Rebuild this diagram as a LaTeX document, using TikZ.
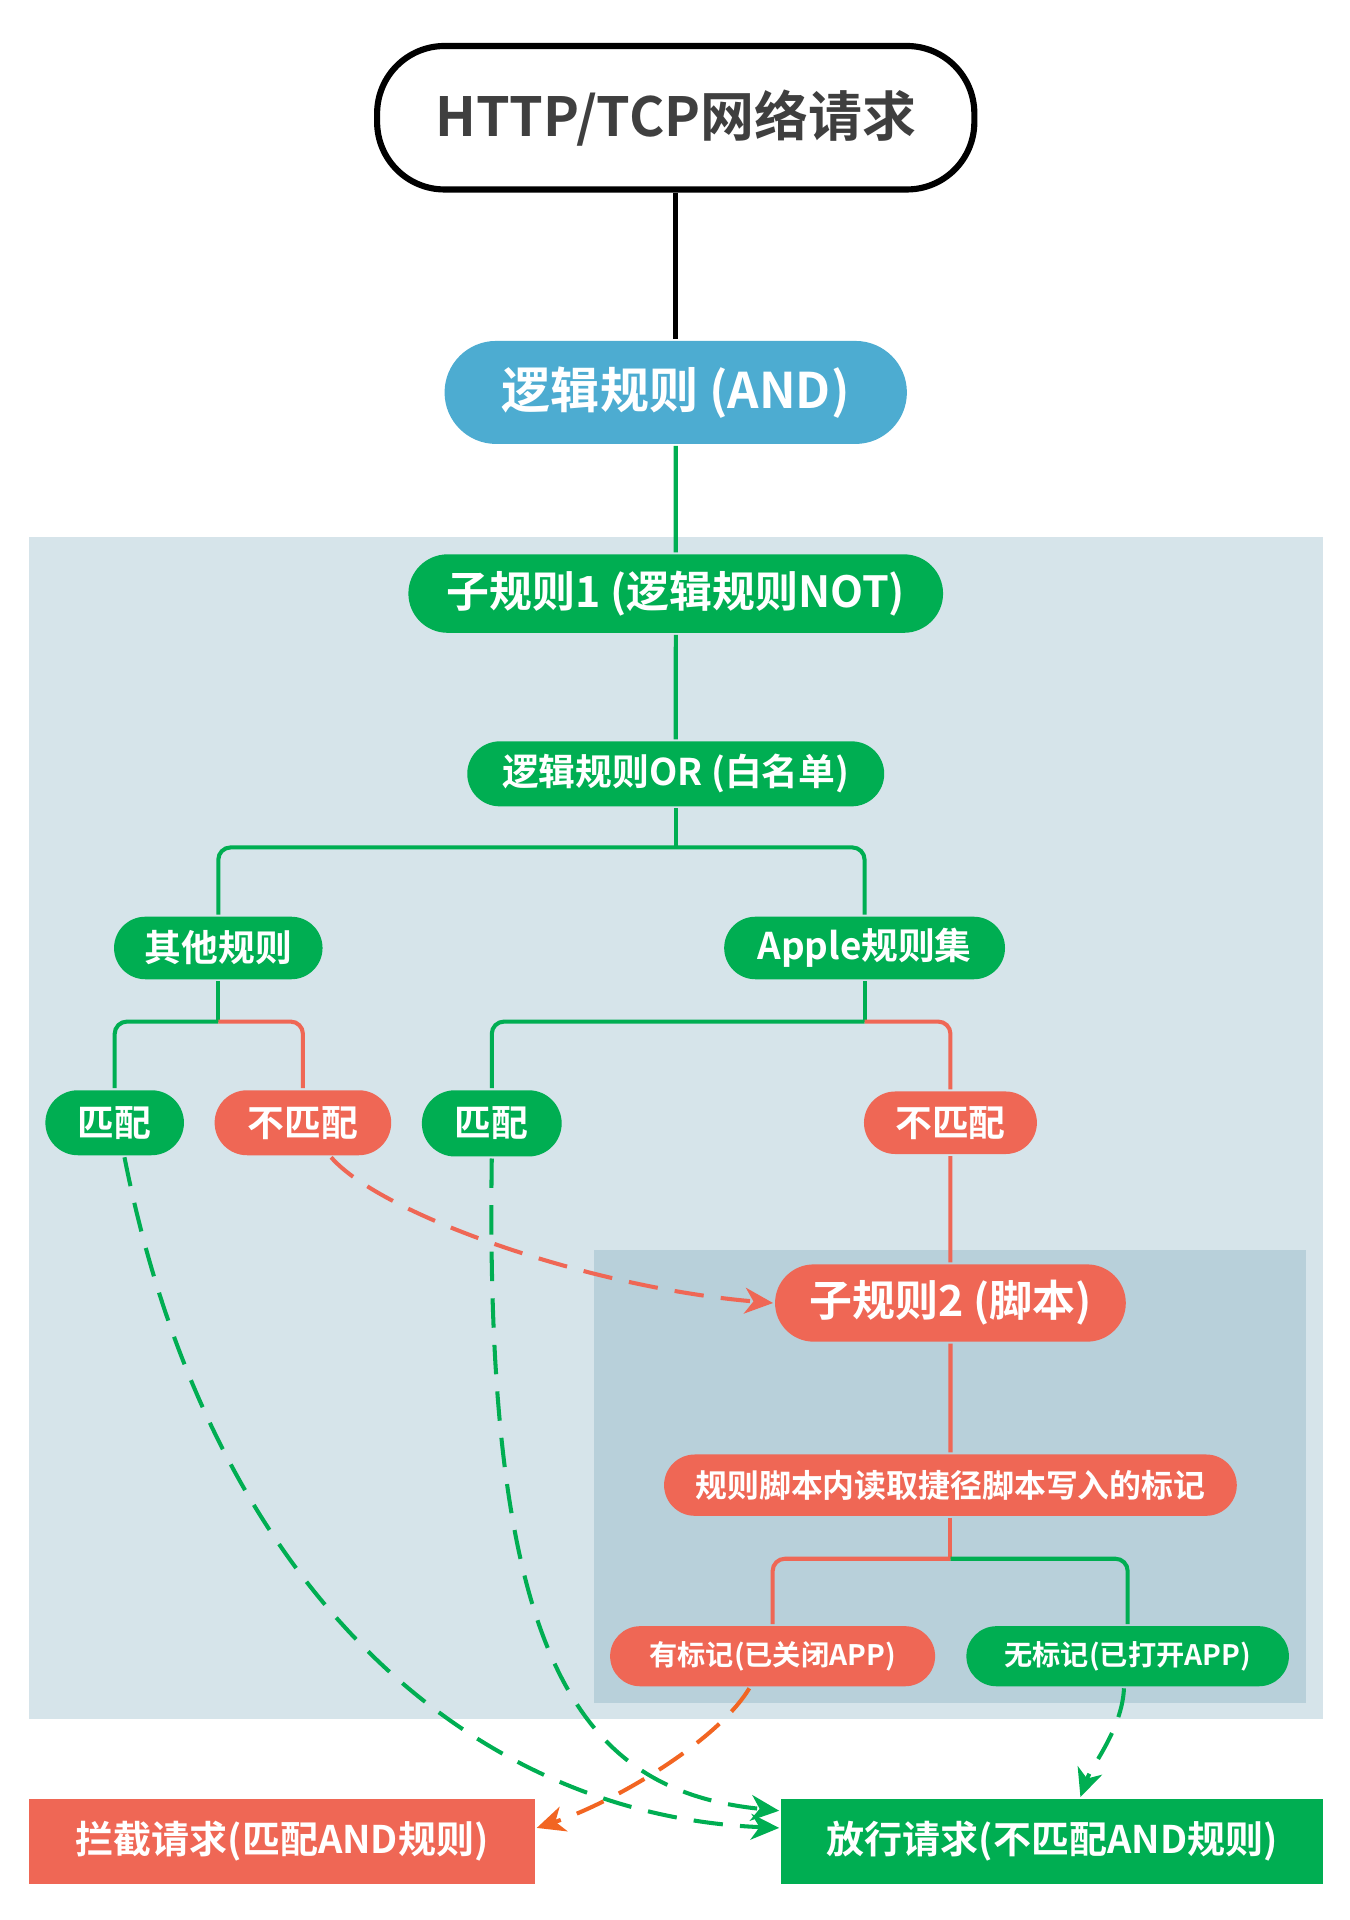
\documentclass[tikz,border=0pt]{standalone}
\usepackage{fontspec}
\setmainfont{Noto Sans CJK SC}[BoldFont={Noto Sans CJK SC Bold}]
\usetikzlibrary{arrows.meta,shapes.misc}
\definecolor{rulegreen}{HTML}{00AE52}
\definecolor{rulered}{HTML}{EF6755}
\definecolor{ruleblue}{HTML}{4DACD1}
\definecolor{dashorange}{HTML}{F26522}
\definecolor{panel}{HTML}{D6E4EA}
\definecolor{subpanel}{HTML}{B8D0DA}
\definecolor{darktext}{HTML}{3F3F3F}
\begin{document}
\begin{tikzpicture}[x=1pt, y=-1pt, line width=3.3pt,
    rule node/.style={rounded rectangle, inner sep=0pt, text=white, font=\bfseries\fontsize{30}{36}\selectfont},
    green node/.style={rule node, fill=rulegreen},
    red node/.style={rule node, fill=rulered},
    blue node/.style={rule node, fill=ruleblue, font=\bfseries\fontsize{40}{46}\selectfont},
    top node/.style={draw=black, line width=5pt, fill=white, rounded corners=55pt, inner sep=0pt,
        text=darktext, font=\bfseries\fontsize{44}{50}\selectfont},
    end node/.style={inner sep=0pt, text=white, minimum height=69pt, font=\bfseries\fontsize{31}{36}\selectfont},
    green line/.style={draw=rulegreen},
    red line/.style={draw=rulered},
    flow/.style={dash pattern=on 24pt off 14pt, -{Stealth[length=23pt,width=21pt,inset=7pt]}}]
    \useasboundingbox (0,0) rectangle (1100,1565.6);
    \fill[panel] (24,438) rectangle (1079,1402);
    \fill[subpanel] (484,1019) rectangle (1065,1389);

    \node[top node, minimum width=487pt, minimum height=117pt] (1) at (551,96) {HTTP/TCP网络请求};
    \node[blue node, minimum width=377pt, minimum height=84pt] (2) at (551,320) {逻辑规则 (AND)};
    \node[green node, minimum width=436pt, minimum height=64pt, font=\bfseries\fontsize{35}{40}\selectfont] (3) at (551,484) {子规则1 (逻辑规则NOT)};
    \node[green node, minimum width=340pt, minimum height=53pt] (4) at (551,631) {逻辑规则OR (白名单)};
    \node[green node, minimum width=170pt, minimum height=51pt] (5) at (178,773) {其他规则};
    \node[green node, minimum width=229pt, minimum height=51pt] (6) at (705,773) {Apple规则集};
    \node[green node, minimum width=113pt, minimum height=53pt] (7) at (93.5,915.5) {匹配};
    \node[red node, minimum width=144pt, minimum height=53pt] (8) at (247,915.5) {不匹配};
    \node[green node, minimum width=114pt, minimum height=54pt] (9) at (401,916) {匹配};
    \node[red node, minimum width=141pt, minimum height=51pt] (10) at (775,915.5) {不匹配};
    \node[red node, minimum width=286pt, minimum height=63pt, font=\bfseries\fontsize{35}{40}\selectfont] (11) at (775,1062.5) {子规则2 (脚本)};
    \node[red node, minimum width=467pt, minimum height=50pt, font=\bfseries\fontsize{26}{30}\selectfont] (12) at (775,1211) {规则脚本内读取捷径脚本写入的标记};
    \node[red node, minimum width=265pt, minimum height=49pt, font=\bfseries\fontsize{23}{28}\selectfont] (13) at (630,1350.5) {有标记(已关闭APP)};
    \node[green node, minimum width=263pt, minimum height=49pt, font=\bfseries\fontsize{23}{28}\selectfont] (14) at (919.5,1350.5) {无标记(已打开APP)};
    \node[end node, fill=rulered, minimum width=412pt] (15) at (230,1501.5) {拦截请求(匹配AND规则)};
    \node[end node, fill=rulegreen, minimum width=442pt] (16) at (858,1501.5) {放行请求(不匹配AND规则)};

    \coordinate (s4) at (551,691);
    \coordinate (s5) at (178,833);
    \coordinate (s6) at (705,833);
    \coordinate (s12) at (775,1271);

    \path[line width=4pt] (1) edge (2);
    \path[green line] (2) edge (3) (3) edge (4) (4) edge (s4) (5) edge (s5) (6) edge (s6);
    \path[red line] (10) edge (11) (11) edge (12) (12) edge (s12);
    \draw[green line, rounded corners=10pt] (s4) -| (5) (s4) -| (6);
    \draw[green line, rounded corners=10pt] (s5) -| (7) (s6) -| (9) (s12) -| (14);
    \draw[red line, rounded corners=10pt] (s5) -| (8) (s6) -| (10) (s12) -| (13);

    \draw[flow, draw=rulegreen] ([xshift=8pt]7.south) .. controls (170,1290) and (380,1480) .. ([yshift=11pt]16.west);
    \draw[flow, draw=rulered] ([xshift=23pt]8.south) .. controls (310,990) and (480,1050) .. (11.west);
    \draw[flow, draw=rulegreen] (9.south) .. controls (395,1350) and (470,1460) .. ([yshift=25pt]16.west);
    \draw[flow, draw=dashorange] ([xshift=-19pt]13.south) .. controls (585,1420) and (500,1470) .. ([yshift=11pt]15.east);
    \draw[flow, draw=rulegreen] ([xshift=-3pt]14.south) .. controls (915,1410) and (890,1440) .. ([xshift=23pt]16.north);
\end{tikzpicture}
\end{document}
